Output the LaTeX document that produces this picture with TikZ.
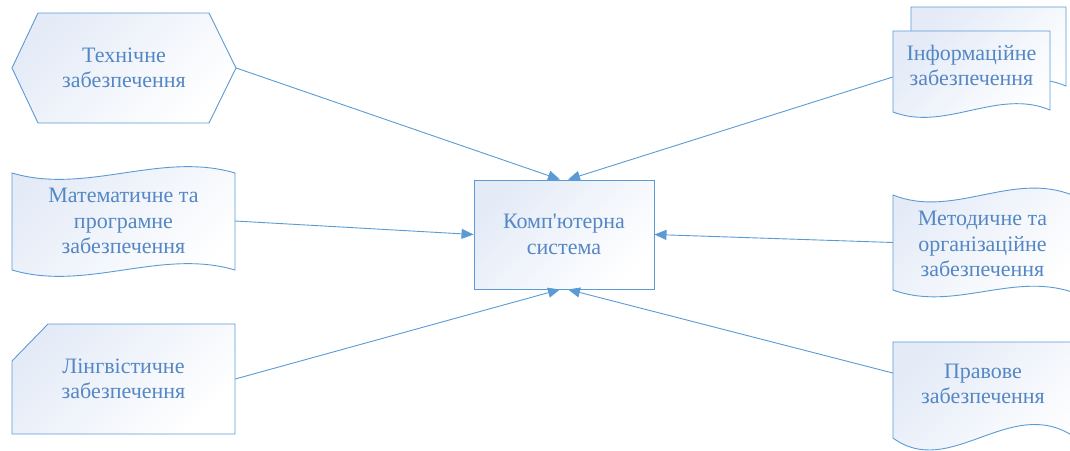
\documentclass[tikz,border=0pt]{standalone}
\usepackage{fontspec}
\setmainfont{Liberation Serif}
\usetikzlibrary{arrows.meta}
\definecolor{edgeblue}{RGB}{91,155,213}
\definecolor{textblue}{RGB}{84,135,196}
\definecolor{tint}{RGB}{228,235,247}
\begin{document}
\begin{tikzpicture}[x=1pt,y=-1pt,
  outline/.style={draw=edgeblue, line width=0.9pt, line join=miter,
    top color=tint, bottom color=white, shading angle=45},
  txt/.style={text=textblue, align=center, inner sep=0pt,
    font=\fontsize{22}{25.5}\selectfont},
  conn/.style={draw=edgeblue, line width=0.9pt,
    -{Triangle[length=12pt,width=10pt]}}
]
\useasboundingbox (0,0) rectangle (1070,450);
\clip (0,0) rectangle (1070,450);
\fill[white] (0,0) rectangle (1070,450);

% hexagon (preparation)
\path[outline] (38,13) -- (209,13) -- (236,68) -- (209,123) -- (38,123) -- (12,68) -- cycle;
% punched tape
\path[outline] (12,173) .. controls (86,195) and (161,151) .. (235,173) -- (235,270)
  .. controls (161,248) and (86,292) .. (12,270) -- cycle;
% card with cut corner
\path[outline] (48,324) -- (235,324) -- (235,434) -- (12,434) -- (12,361) -- cycle;
% multi-document: back sheet, then front sheet
\path[outline] (911,7) -- (1066,7) -- (1066,86) .. controls (1015,64) and (963,108) .. (911,88) -- cycle;
\path[outline] (893,31) -- (1050,31) -- (1050,110) .. controls (998,88) and (945,132) .. (893,112) -- cycle;
% punched tape on the right
\path[outline] (893,195) .. controls (953,219) and (1012,171) .. (1072,195) -- (1072,292)
  .. controls (1012,272) and (953,312) .. (893,290) -- cycle;
% document
\path[outline] (893,342) -- (1073,342) -- (1073,436) .. controls (1010,395) and (950,480) .. (893,438) -- cycle;

% labels
\node[txt, minimum width=224] (tech) at (124,68) {Технічне\\забезпечення};
\node[txt, minimum width=223] (math) at (123.5,221) {Математичне та\\програмне\\забезпечення};
\node[txt, minimum width=223] (ling) at (123.5,379) {Лінгвістичне\\забезпечення};
\node[txt, minimum width=157] (info) at (971.5,65.5) {Інформаційне\\забезпечення};
\node[txt, minimum width=179] (meth) at (982.5,244) {Методичне та\\організаційне\\забезпечення};
\node[txt, minimum width=180] (law) at (983,384) {Правове\\забезпечення};
\node[txt, outline, minimum width=180, minimum height=109] (cs) at (564,234.5)
  {Комп\textquotesingle ютерна\\система};

% connectors
\draw[conn] (tech.east) -- ([xshift=-4pt]cs.north);
\draw[conn] ([yshift=-11.5pt]info.west) -- ([xshift=4pt]cs.north);
\draw[conn] (math.east) -- (cs.west);
\draw[conn] ([yshift=1.5pt]meth.west) -- (cs.east);
\draw[conn] (ling.east) -- ([xshift=-4pt]cs.south);
\draw[conn] ([yshift=11pt]law.west) -- ([xshift=4pt]cs.south);
\end{tikzpicture}
\end{document}
